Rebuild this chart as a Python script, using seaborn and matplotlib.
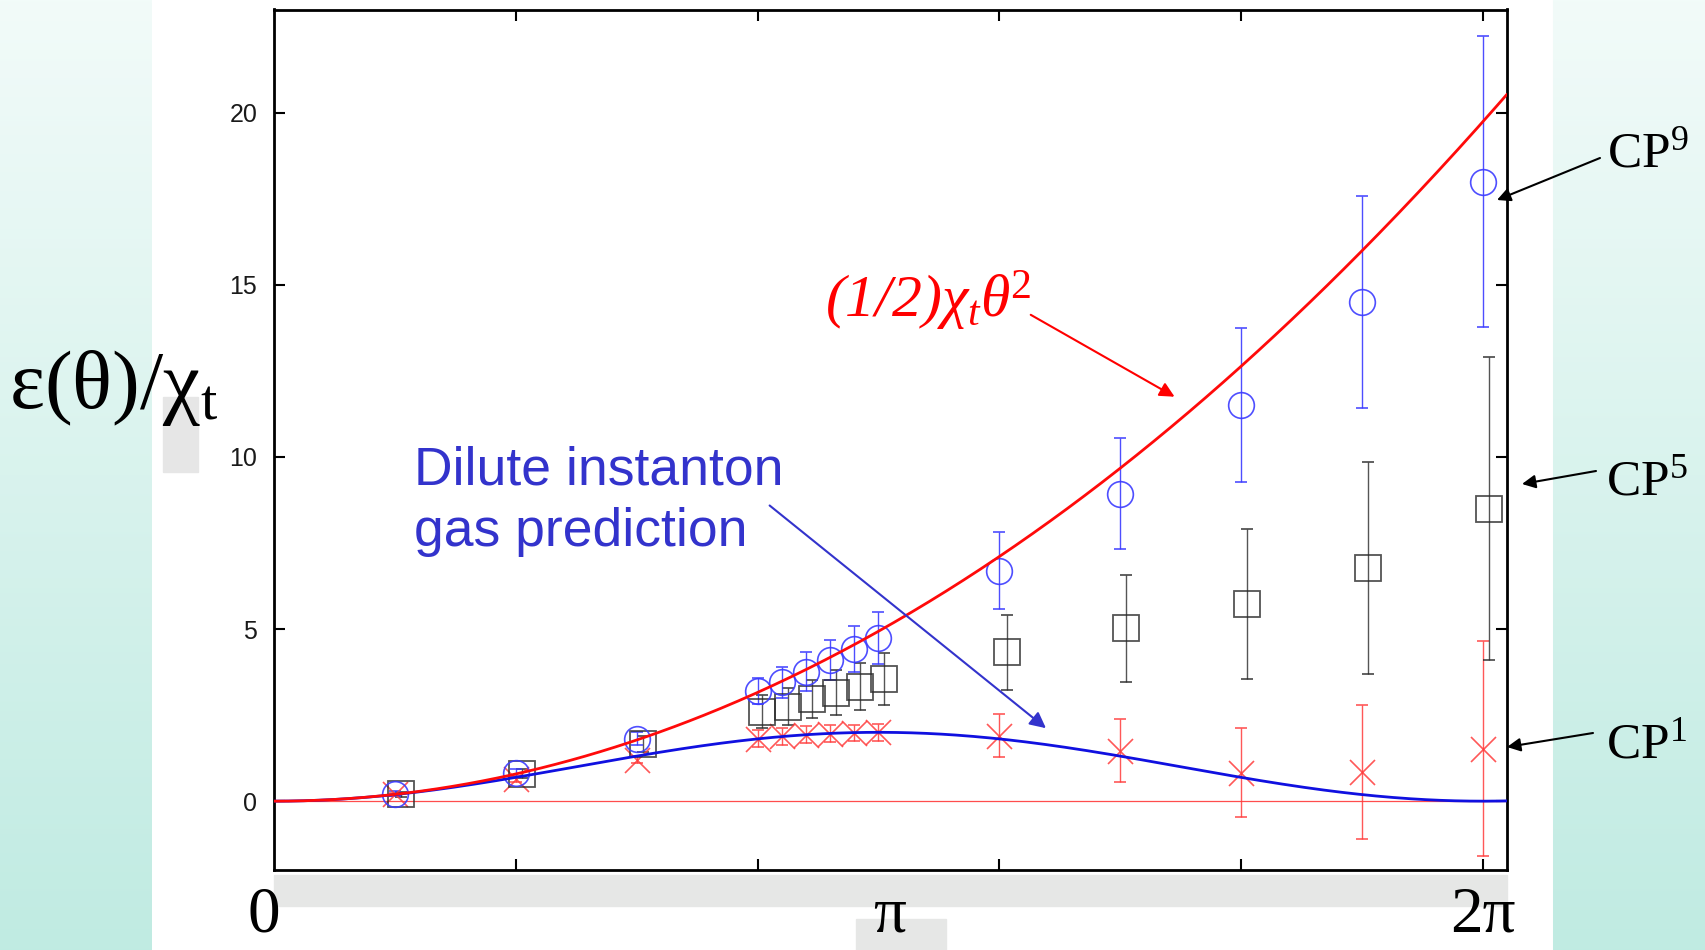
import numpy as np
import pandas as pd
import matplotlib
matplotlib.use("Agg")
import matplotlib.pyplot as plt
import matplotlib.transforms as mtransforms
from matplotlib.patches import Rectangle
import seaborn as sns

# ---- lattice data: theta in units of 2*pi, energy density over chi_t ----
theta_cp9 = [0.10, 0.20, 0.30, 0.40, 0.42, 0.44, 0.46, 0.48, 0.50, 0.60, 0.70, 0.80, 0.90, 1.00]
eps_cp9 = [0.22, 0.82, 1.82, 3.20, 3.45, 3.76, 4.10, 4.42, 4.75, 6.70, 8.93, 11.50, 14.50, 18.00]
err_cp9 = [0.08, 0.12, 0.20, 0.37, 0.46, 0.56, 0.59, 0.68, 0.76, 1.13, 1.61, 2.24, 3.07, 4.22]

theta_cp5 = [0.105, 0.205, 0.305, 0.404, 0.425, 0.445, 0.465, 0.485, 0.505, 0.606, 0.705, 0.805, 0.905, 1.005]
eps_cp5 = [0.20, 0.80, 1.66, 2.60, 2.75, 2.97, 3.15, 3.33, 3.54, 4.33, 5.02, 5.74, 6.78, 8.50]
err_cp5 = [0.08, 0.12, 0.22, 0.47, 0.53, 0.55, 0.65, 0.69, 0.75, 1.09, 1.55, 2.18, 3.08, 4.40]

theta_cp1 = [0.10, 0.20, 0.30, 0.40, 0.42, 0.44, 0.46, 0.48, 0.50, 0.60, 0.70, 0.80, 0.90, 1.00]
eps_cp1 = [0.20, 0.64, 1.20, 1.82, 1.88, 1.93, 1.96, 1.98, 2.00, 1.90, 1.47, 0.83, 0.84, 1.52]
err_cp1 = [0.05, 0.08, 0.10, 0.24, 0.24, 0.24, 0.24, 0.24, 0.24, 0.63, 0.92, 1.30, 1.95, 3.12]

y_ticks = [0, 5, 10, 15, 20]
x_ticks = [0.2, 0.4, 0.6, 0.8, 1.0]
theta_label_pos = [0.0, 0.5, 1.0]
theta_label_txt = ["0", "π", "2π"]
series_labels = ["CP$^{9}$", "CP$^{5}$", "CP$^{1}$"]

# ---- theory curves ----
theta_grid = np.linspace(0.0, 1.02, 500)
curves = pd.DataFrame({
    "theta": theta_grid,
    "quadratic": 0.5 * (2 * np.pi * theta_grid) ** 2,   # (1/2) chi_t theta^2
    "dig": 1.0 - np.cos(2 * np.pi * theta_grid),        # dilute instanton gas
})

sns.set_theme(style="ticks")
plt.rcParams["font.family"] = ["Liberation Sans", "DejaVu Sans"]
plt.rcParams["mathtext.fontset"] = "custom"
plt.rcParams["mathtext.rm"] = "Liberation Serif"
plt.rcParams["mathtext.it"] = "Liberation Serif:italic"
plt.rcParams["mathtext.bf"] = "Liberation Serif:bold"

W, H = 1705, 950
fig = plt.figure(figsize=(W / 100, H / 100), dpi=100)

# slide background: teal side strips with a vertical gradient, white centre
bg = fig.add_axes([0, 0, 1, 1], zorder=-10)
bg.axis("off")
rows = 200
top = np.array([242, 251, 249]) / 255.0
bot = np.array([192, 235, 226]) / 255.0
t = np.linspace(0, 1, rows)[:, None, None]
img = np.ones((rows, W, 3))
grad = top * (1 - t) + bot * t
img[:, :152, :] = grad
img[:, 1553:, :] = grad
bg.imshow(img, aspect="auto", extent=[0, 1, 0, 1], interpolation="bilinear")
bg.set_xlim(0, 1)
bg.set_ylim(0, 1)

ax = fig.add_axes([274 / W, 80 / H, 1233 / W, 860.5 / H], zorder=1)
ax.set_facecolor("white")

# zero line
ax.axhline(0, color="#ff4d4d", lw=0.9, zorder=2)

# lattice points with error bars
common = dict(linestyle="none", capsize=4.5, elinewidth=1.0, capthick=1.0, zorder=3)
ax.errorbar(theta_cp1, eps_cp1, yerr=err_cp1, marker="x", ms=18, mew=1.2,
            color="#ff3b3b", alpha=0.85, **common)
ax.errorbar(theta_cp5, eps_cp5, yerr=err_cp5, marker="s", ms=18.5, mew=1.3,
            mfc="none", color="#2a2a2a", alpha=0.8, **common)
ax.errorbar(theta_cp9, eps_cp9, yerr=err_cp9, marker="o", ms=18.5, mew=1.2,
            mfc="none", color="#3b3bff", alpha=0.9, **common)

# theory curves
sns.lineplot(data=curves, x="theta", y="dig", ax=ax, color="#1010e0", lw=2.0, zorder=4)
sns.lineplot(data=curves, x="theta", y="quadratic", ax=ax, color="#ff0a0a", lw=2.0, zorder=5)

ax.set_xlim(0, 1.02)
ax.set_ylim(-2, 23)
ax.set_xticks(x_ticks)
ax.set_xticklabels([])
ax.set_yticks(y_ticks)
ax.set_yticklabels([str(v) for v in y_ticks], fontsize=18, color="#1a1a1a")
ax.set_xlabel("")
ax.set_ylabel("")
ax.tick_params(direction="in", length=8, width=1.5, top=True, right=True,
               pad=12, colors="black", labelcolor="#1a1a1a")
for s in ax.spines.values():
    s.set_linewidth(2.0)
    s.set_color("black")

# annotations inside the axes
ax.text(0.1158, 9.2, "Dilute instanton", fontsize=38.5, color="#3333cc",
        family="Liberation Sans", va="baseline", ha="left", zorder=6)
ax.text(0.1158, 7.4, "gas prediction", fontsize=38.5, color="#3333cc",
        family="Liberation Sans", va="baseline", ha="left", zorder=6)
ax.annotate("", xy=(0.6386, 2.12), xytext=(0.410, 8.59),
            arrowprops=dict(arrowstyle="-|>", color="#3333cc", lw=1.5,
                            mutation_scale=24, shrinkA=0, shrinkB=0), zorder=6)

ax.text(0.456, 14.07, "(1/2)χ$_{t}$θ$^{2}$", fontsize=43, color="#ff0000",
        family="Liberation Serif", style="italic", va="baseline", ha="left", zorder=6)
ax.annotate("", xy=(0.745, 11.75), xytext=(0.626, 14.13),
            arrowprops=dict(arrowstyle="-|>", color="#ff0000", lw=1.5,
                            mutation_scale=22, shrinkA=0, shrinkB=0), zorder=6)

# y-axis label with its grey patch
fig.patches.append(Rectangle((163 / W, (H - 472) / H), 35 / W, 75 / H,
                             transform=fig.transFigure, color="#e6e6e6", zorder=0))
fig.text(9 / W, (H - 408) / H, "ε(θ)/χ$_{\\mathrm{t}}$", fontsize=60,
         family="Liberation Serif", color="black", va="baseline", ha="left", zorder=5)

# grey bands below the x axis
fig.patches.append(Rectangle((274 / W, (H - 906) / H), 1233 / W, 31 / H,
                             transform=fig.transFigure, color="#e6e7e6", zorder=0))
fig.patches.append(Rectangle((856 / W, 0), 90 / W, 31 / H,
                             transform=fig.transFigure, color="#e6e7e6", zorder=0))

# theta labels under the axis (small horizontal nudges in pixels)
label_nudge_px = [-10, 11, 0]
blend = mtransforms.blended_transform_factory(ax.transData, fig.transFigure)
for xv, txt, dx in zip(theta_label_pos, theta_label_txt, label_nudge_px):
    tr = blend + mtransforms.ScaledTranslation(dx / 100, 0, fig.dpi_scale_trans)
    ax.text(xv, (H - 932) / H, txt, transform=tr, fontsize=47,
            family="Liberation Serif", color="black", ha="center", va="baseline",
            clip_on=False, zorder=6)

# series labels on the right with arrows to the axis edge
label_pos = [(1607, 167), (1606, 495), (1606, 758)]
arrow_tail = [(1600, 158), (1596, 471), (1593, 733)]
arrow_tip = [(1497, 200), (1522, 484), (1507, 747)]
for lab, (lx, ly), (tx, ty), (hx, hy) in zip(series_labels, label_pos, arrow_tail, arrow_tip):
    fig.text(lx / W, (H - ly) / H, lab, fontsize=37, family="Liberation Serif",
             color="black", va="baseline", ha="left")
    ax.annotate("", xy=(hx, H - hy), xycoords="figure pixels",
                xytext=(tx, H - ty), textcoords="figure pixels",
                arrowprops=dict(arrowstyle="-|>", color="black", lw=1.5,
                                mutation_scale=20, shrinkA=0, shrinkB=0),
                annotation_clip=False, zorder=6)

fig.savefig("out.png", dpi=100)
